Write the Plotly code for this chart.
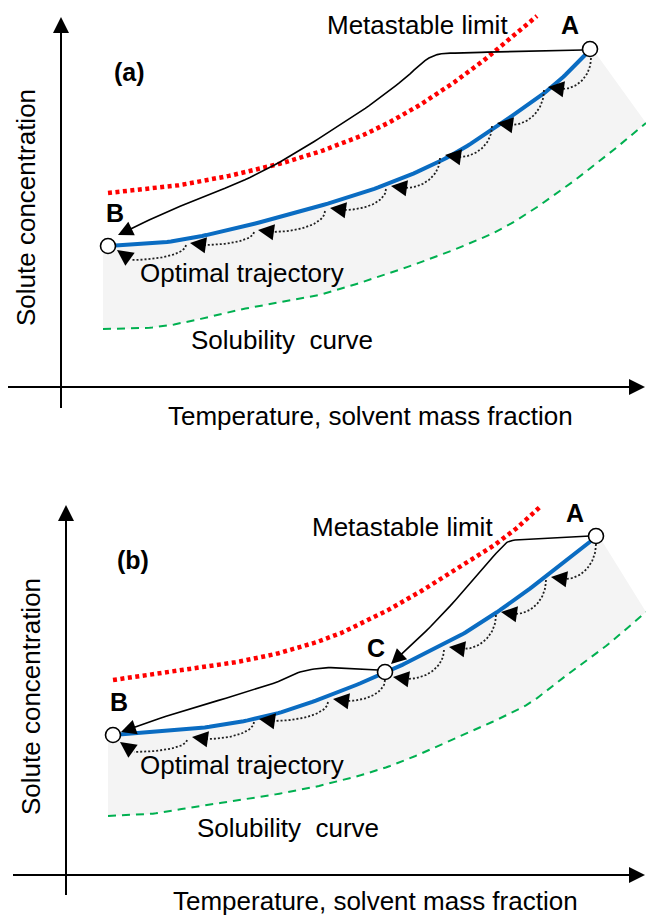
import numpy as np
import plotly.graph_objects as go

W, H = 646, 916
FONT = "Liberation Sans, Arial, sans-serif"

# ---------------- panel (a) data (pixel-space schematic) ----------------
a_blue_x = [108, 167, 233, 323, 390, 450, 503, 553, 590]
a_blue_y = [246, 242, 229, 205, 183, 156, 122, 86, 50]
a_red_x = [108, 167, 233, 300, 356, 390, 423, 456, 483, 503, 523, 537]
a_red_y = [193, 187, 175, 158, 138, 122, 103, 81, 61, 44, 28, 16]
a_green_x = [103, 147, 187, 233, 283, 323, 390, 456, 505, 556, 606, 646]
a_green_y = [329, 328, 322, 311, 302, 294, 273, 249, 227, 194, 156, 123]
a_black_x = [583, 520, 470, 433, 403, 373, 343, 323, 280, 240, 200, 160, 118]
a_black_y = [50, 51, 53, 56, 80, 103, 123, 136, 162, 182, 198, 215, 235]
a_arc_start_x = [591, 544, 492, 440, 386, 325, 254, 186]
a_arc_start_y = [58, 90, 126, 158, 189, 211, 232, 245]
a_tip_x = [548, 497, 445, 391, 330, 258, 190, 117]
a_tip_y = [87, 123, 155, 186, 208, 230, 243, 250]
a_tail_x = [562, 511, 459, 405, 344, 272, 204, 131]
a_tail_y = [89, 125, 157, 188, 210, 232, 245, 260]
a_pts_x = [590, 108]          # A, B
a_pts_y = [49, 246]
a_shade_edge = (597, 55)

# ---------------- panel (b) data ----------------
b_blue_x = [113, 200, 267, 323, 385, 406, 456, 506, 553, 596]
b_blue_y = [735, 728, 716, 698, 673, 663, 638, 606, 571, 537]
b_red_x = [113, 200, 267, 323, 356, 390, 423, 456, 490, 512, 527, 541]
b_red_y = [680, 668, 656, 640, 626, 609, 590, 569, 548, 532, 519, 506]
b_green_x = [108, 150, 200, 260, 323, 390, 456, 523, 556, 606, 646]
b_green_y = [816, 814, 806, 797, 785, 766, 738, 707, 683, 646, 612]
b_black1_x = [590, 550, 515, 503, 480, 440, 406, 391]
b_black1_y = [536, 538, 540, 546, 572, 617, 650, 664]
b_black2_x = [378, 345, 323, 300, 283, 233, 173, 121]
b_black2_y = [670, 668, 668, 672, 680, 696, 714, 732]
b_arc_start_x = [596, 546, 496, 444, 385, 328, 254, 187]
b_arc_start_y = [544, 580, 615, 650, 680, 702, 722, 740]
b_tip_x = [551, 501, 449, 393, 333, 259, 192, 120]
b_tip_y = [577, 612, 647, 677, 699, 719, 737, 742]
b_tail_x = [565, 515, 463, 407, 347, 273, 206, 134]
b_tail_y = [579, 614, 649, 679, 701, 721, 739, 752]
b_pts_x = [596, 113, 385]     # A, B, C
b_pts_y = [536, 735, 672]
b_shade_edge = (602, 541)

# axes: (x of y-axis, y-top tip, y-bottom, y of x-axis, x-left, x-tip)
a_axes = (61, 17, 408, 387, 8, 645)
b_axes = (66, 505, 895, 875, 13, 645)

# labels
a_labels = [("Metastable limit", 325, 25, "left", False),
            ("Optimal trajectory", 138, 273, "left", False),
            ("Solubility  curve", 189, 340, "left", False),
            ("(a)", 129, 72, "center", True),
            ("A", 570, 25, "center", True),
            ("B", 115, 213, "center", True)]
b_labels = [("Metastable limit", 310, 527, "left", False),
            ("Optimal trajectory", 138, 765, "left", False),
            ("Solubility  curve", 195, 828, "left", False),
            ("(b)", 133, 560, "center", True),
            ("A", 575, 513, "center", True),
            ("B", 119, 702, "center", True),
            ("C", 376, 648, "center", True)]
ylab = "Solute concentration"
xlab = "Temperature, solvent mass fraction"
a_axlab = ((26, 208), (370, 416))
b_axlab = ((31, 697), (375, 901))


def smooth(xs, ys, n=16):
    P = np.column_stack([xs, ys]).astype(float)
    P = np.vstack([2 * P[0] - P[1], P, 2 * P[-1] - P[-2]])
    out = []
    t = np.linspace(0, 1, n, endpoint=False)[:, None]
    for i in range(1, len(P) - 2):
        p0, p1, p2, p3 = P[i - 1], P[i], P[i + 1], P[i + 2]
        pts = 0.5 * ((2 * p1) + (-p0 + p2) * t + (2 * p0 - 5 * p1 + 4 * p2 - p3) * t ** 2
                     + (-p0 + 3 * p1 - 3 * p2 + p3) * t ** 3)
        out.append(pts)
    out.append(P[-2][None, :])
    s = np.vstack(out)
    return s[:, 0], s[:, 1]


def ang(dx, dy):
    return float(np.degrees(np.arctan2(dx, -dy)))


fig = go.Figure()


def line(x, y, color, width, dash="solid"):
    fig.add_trace(go.Scatter(x=list(x), y=list(y), mode="lines",
                             line=dict(color=color, width=width, dash=dash),
                             hoverinfo="skip", showlegend=False))


def arrow(x, y, angle, size, color="black"):
    fig.add_trace(go.Scatter(x=[x], y=[y], mode="markers",
                             marker=dict(symbol="arrow-up", size=size, angle=angle,
                                         color=color, line=dict(width=0)),
                             hoverinfo="skip", showlegend=False))


def panel(blue_x, blue_y, red_x, red_y, green_x, green_y, blacks, arc_sx, arc_sy,
          tip_x, tip_y, tail_x, tail_y, pts_x, pts_y, shade_edge, axes, labels, axlab):
    bx, by = smooth(blue_x, blue_y)
    gx, gy = smooth(green_x, green_y)
    rx, ry = smooth(red_x, red_y)
    # shaded band
    px = [gx[0]] + list(bx) + [shade_edge[0]] + list(gx[::-1])
    py = [by[0] + 3] + list(by) + [shade_edge[1]] + list(gy[::-1])
    fig.add_trace(go.Scatter(x=px, y=py, mode="lines", fill="toself",
                             fillcolor="#f4f4f4", line=dict(width=0),
                             hoverinfo="skip", showlegend=False))
    line(gx, gy, "#00B050", 2, "8px,6px")
    line(rx, ry, "#FF0000", 4.5, "4px,3.5px")
    line(bx, by, "#0A6CC2", 4)
    # dotted arcs with arrowheads
    for sx, sy, ex, ey, tx, ty in zip(arc_sx, arc_sy, tail_x, tail_y, tip_x, tip_y):
        t = np.linspace(0, np.pi / 2, 30)
        ax_ = ex + (sx - ex) * np.cos(t)
        ay_ = sy + (ey - sy) * np.sin(t)
        line(ax_, ay_, "#202020", 1.8, "2px,2px")
        arrow(tx, ty, ang(tx - ex, ty - ey), 16)
    # black solid paths with arrowheads
    for kx, ky in blacks:
        sx, sy = smooth(kx, ky, 8)
        line(sx[:-2], sy[:-2], "black", 1.6)
        arrow(kx[-1], ky[-1], ang(kx[-1] - kx[-2], ky[-1] - ky[-2]), 15)
    # state points
    fig.add_trace(go.Scatter(x=pts_x, y=pts_y, mode="markers",
                             marker=dict(symbol="circle", size=15, color="white",
                                         line=dict(color="black", width=1.6)),
                             hoverinfo="skip", showlegend=False))
    # axes
    yx, ytop, ybot, xy, xl, xtip = axes
    line([yx, yx], [ybot, ytop + 10], "black", 2)
    line([xl, xtip - 10], [xy, xy], "black", 2)
    arrow(yx, ytop, 0, 16)
    arrow(xtip, xy, 90, 16)
    for txt, x, y, anc, bold in labels:
        fig.add_annotation(x=x, y=y, text=f"<b>{txt}</b>" if bold else txt,
                           xanchor=anc, yanchor="middle", showarrow=False,
                           font=dict(family=FONT, size=26 if not bold else 25, color="black"))
    (lx, ly), (tx_, ty_) = axlab
    fig.add_annotation(x=lx, y=ly, text=ylab, textangle=-90, showarrow=False,
                       xanchor="center", yanchor="middle",
                       font=dict(family=FONT, size=26, color="black"))
    fig.add_annotation(x=tx_, y=ty_, text=xlab, showarrow=False,
                       xanchor="center", yanchor="middle",
                       font=dict(family=FONT, size=26, color="black"))


panel(a_blue_x, a_blue_y, a_red_x, a_red_y, a_green_x, a_green_y,
      [(a_black_x, a_black_y)], a_arc_start_x, a_arc_start_y,
      a_tip_x, a_tip_y, a_tail_x, a_tail_y, a_pts_x, a_pts_y, a_shade_edge,
      a_axes, a_labels, a_axlab)
panel(b_blue_x, b_blue_y, b_red_x, b_red_y, b_green_x, b_green_y,
      [(b_black1_x, b_black1_y), (b_black2_x, b_black2_y)], b_arc_start_x, b_arc_start_y,
      b_tip_x, b_tip_y, b_tail_x, b_tail_y, b_pts_x, b_pts_y, b_shade_edge,
      b_axes, b_labels, b_axlab)

fig.update_layout(width=W, height=H, margin=dict(l=0, r=0, t=0, b=0),
                  paper_bgcolor="white", plot_bgcolor="white", showlegend=False,
                  xaxis=dict(range=[0, W], visible=False, fixedrange=True),
                  yaxis=dict(range=[H, 0], visible=False, fixedrange=True))
fig.write_html("out.html")
